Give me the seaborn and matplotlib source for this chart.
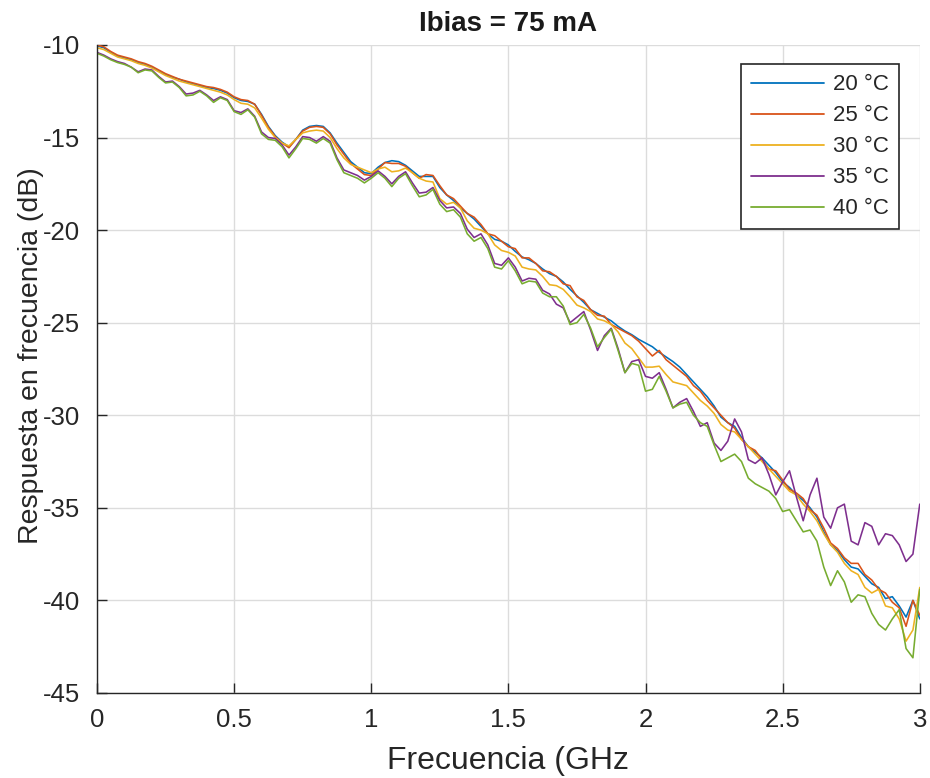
import numpy as np
import pandas as pd
import matplotlib
matplotlib.use("Agg")
import matplotlib.pyplot as plt
import seaborn as sns

# Frequency sample points (GHz), 0.025 GHz step
freq_ghz = np.round(np.arange(0, 121) * 0.025, 3)

resp_20c = [
    -10.05, -10.15, -10.4, -10.6, -10.7, -10.8, -10.95, -11.05, -11.2, -11.4,
    -11.6, -11.75, -11.85, -12.0, -12.1, -12.2, -12.3, -12.35, -12.45, -12.6,
    -12.85, -13.0, -13.05, -13.2, -13.75, -14.4, -14.9, -15.25, -15.5, -15.1,
    -14.6, -14.4, -14.35, -14.4, -14.75, -15.3, -15.8, -16.3, -16.6, -16.9,
    -16.95, -16.6, -16.35, -16.25, -16.3, -16.5, -16.8, -17.1, -17.1, -17.1,
    -17.7, -18.1, -18.4, -18.8, -19.1, -19.4, -19.8, -20.2, -20.5, -20.6,
    -20.8, -21.15, -21.45, -21.6, -21.8, -22.1, -22.35, -22.5, -22.8, -23.2,
    -23.55, -23.9, -24.3, -24.5, -24.7, -24.9, -25.2, -25.45, -25.65, -25.9,
    -26.1, -26.3, -26.6, -26.85, -27.1, -27.4, -27.8, -28.2, -28.6, -29.0,
    -29.5, -30.1, -30.4, -30.6, -31.2, -31.7, -32.0, -32.3, -32.7, -33.1,
    -33.6, -33.9, -34.3, -34.6, -35.0, -35.5, -36.3, -37.0, -37.3, -37.8,
    -38.2, -38.3, -38.7, -39.1, -39.3, -39.9, -39.8, -40.3, -40.9, -40.0,
    -41.0,
]

resp_25c = [
    -10.0, -10.1, -10.35, -10.55, -10.65, -10.75, -10.9, -11.0, -11.15, -11.35,
    -11.55, -11.7, -11.85, -11.95, -12.05, -12.15, -12.25, -12.3, -12.4, -12.55,
    -12.8, -12.95, -13.0, -13.2, -13.8, -14.45, -14.95, -15.3, -15.55, -15.1,
    -14.65, -14.45, -14.4, -14.45, -14.8, -15.4, -15.9, -16.4, -16.7, -17.0,
    -17.05, -16.7, -16.35, -16.4, -16.4, -16.55, -16.9, -17.2, -17.0, -17.05,
    -17.6, -18.1, -18.3, -18.7, -19.1, -19.3, -19.7, -20.2, -20.3, -20.6,
    -20.9, -21.0, -21.5, -21.5, -21.8, -22.2, -22.25, -22.5, -22.9, -23.0,
    -23.6, -23.8, -24.3, -24.6, -24.65, -25.1, -25.3, -25.5, -25.7, -26.0,
    -26.4, -26.8, -26.5, -27.0, -27.3, -27.6, -27.9, -28.4, -28.7, -29.2,
    -29.6, -30.0, -30.4, -30.7, -31.3, -31.7, -31.9, -32.4, -32.9, -33.0,
    -33.5, -34.0, -34.2, -34.5, -35.1, -35.4, -36.1, -36.9, -37.2, -37.7,
    -38.0, -38.0, -38.6, -38.9, -39.4, -39.6, -40.1, -40.4, -41.4, -40.0,
    -40.8,
]

resp_30c = [
    -10.15, -10.25, -10.45, -10.65, -10.75, -10.85, -11.0, -11.1, -11.25, -11.45,
    -11.65, -11.8, -11.95, -12.05, -12.15, -12.25, -12.35, -12.45, -12.55, -12.7,
    -12.95, -13.15, -13.2, -13.4, -13.95, -14.55, -15.0, -15.3, -15.45, -15.1,
    -14.75, -14.65, -14.6, -14.65, -15.0, -15.6, -16.1, -16.45, -16.6, -16.75,
    -16.9, -16.7, -16.6, -16.85, -16.8, -16.65, -16.9, -17.2, -17.35, -17.4,
    -18.3, -18.6, -18.5, -18.8, -19.5, -19.9, -20.0, -20.2, -20.8, -21.1,
    -21.2, -21.4, -22.0, -22.1, -22.15, -22.5, -22.95, -23.0, -23.2, -23.6,
    -24.05, -24.2, -24.4, -24.8, -24.9, -25.1, -25.5, -26.1, -26.4, -26.9,
    -27.4, -27.4, -27.35, -27.8, -28.2, -28.3, -28.4, -28.8, -29.2, -29.5,
    -29.9, -30.5, -30.8, -30.9, -31.3, -31.7, -32.1, -32.5, -32.9, -33.3,
    -33.7, -34.1, -34.3, -34.8, -35.2, -35.7, -36.4, -37.0, -37.4, -38.0,
    -38.4, -38.6, -39.3, -39.6, -39.4, -40.3, -40.4, -41.0, -42.2, -41.6,
    -39.3,
]

resp_35c = [
    -10.4, -10.55, -10.75, -10.9, -11.0, -11.2, -11.45, -11.3, -11.35, -11.7,
    -12.0, -11.95, -12.25, -12.65, -12.6, -12.45, -12.7, -13.0, -12.8, -12.95,
    -13.55, -13.65, -13.45, -13.85, -14.7, -15.0, -15.05, -15.4, -15.95, -15.5,
    -14.95, -15.0, -15.2, -14.95, -15.2, -16.1, -16.75, -16.9, -17.05, -17.3,
    -17.1, -16.8, -17.1, -17.5, -17.1, -16.85, -17.45, -18.0, -17.95, -17.7,
    -18.4, -18.8, -18.75, -19.1, -19.95, -20.4, -20.2, -20.8, -21.8, -21.9,
    -21.5, -22.0, -22.75, -22.6, -22.65, -23.25, -23.45, -24.0, -24.2, -25.0,
    -24.7, -24.4, -25.4, -26.5, -25.7, -25.3, -26.4, -27.7, -27.1, -27.0,
    -27.9, -28.0, -27.7, -28.6, -29.6, -29.3, -29.1, -29.8, -30.6, -30.4,
    -31.5, -31.9, -31.4, -30.2, -30.9, -32.4, -32.6, -32.3, -33.2, -34.3,
    -33.6, -33.0, -34.4, -35.7, -34.3, -33.4, -35.5, -36.1, -35.0, -34.8,
    -36.8, -37.0, -35.8, -36.0, -37.0, -36.4, -36.5, -37.0, -37.9, -37.5,
    -34.8,
]

resp_40c = [
    -10.45, -10.6, -10.8, -10.95, -11.05, -11.2, -11.5, -11.35, -11.4, -11.75,
    -12.05, -12.0, -12.3, -12.75, -12.7, -12.5, -12.75, -13.1, -12.85, -13.0,
    -13.6, -13.75, -13.5, -13.9, -14.8, -15.1, -15.15, -15.5, -16.1, -15.6,
    -15.05, -15.1, -15.3, -15.05, -15.3, -16.2, -16.9, -17.05, -17.2, -17.45,
    -17.2, -16.9, -17.2, -17.65, -17.2, -16.95, -17.6, -18.2, -18.1, -17.8,
    -18.6, -19.0, -18.9, -19.3, -20.2, -20.6, -20.4, -21.0, -22.0, -22.1,
    -21.65, -22.2, -22.9, -22.75, -22.8, -23.4, -23.6, -23.6, -24.1, -25.1,
    -25.0, -24.55, -25.3, -26.3, -25.8, -25.35, -26.5, -27.7, -27.2, -27.3,
    -28.7, -28.6, -27.9, -28.7, -29.6, -29.4, -29.3, -30.0, -30.4, -30.6,
    -31.6, -32.5, -32.3, -32.1, -32.5, -33.4, -33.7, -33.9, -34.1, -34.5,
    -35.2, -35.1, -35.7, -36.3, -36.2, -36.8, -38.2, -39.2, -38.4, -39.0,
    -40.1, -39.7, -39.8, -40.7, -41.3, -41.6, -41.0, -40.5, -42.6, -43.1,
    -39.4,
]

series_labels = ["20 °C", "25 °C", "30 °C", "35 °C", "40 °C"]
series_colors = ["#0072BD", "#D95319", "#EDB120", "#7E2F8E", "#77AC30"]

x_ticks = [0, 0.5, 1, 1.5, 2, 2.5, 3]
x_tick_labels = ["0", "0.5", "1", "1.5", "2", "2.5", "3"]
y_ticks = [-45, -40, -35, -30, -25, -20, -15, -10]
y_tick_labels = ["-45", "-40", "-35", "-30", "-25", "-20", "-15", "-10"]

title_text = "Ibias = 75 mA"
x_label = "Frecuencia (GHz"
y_label = "Respuesta en frecuencia (dB)"

# Long-form table for seaborn
all_series = [resp_20c, resp_25c, resp_30c, resp_35c, resp_40c]
frames = []
for label, values in zip(series_labels, all_series):
    frames.append(pd.DataFrame({"freq": freq_ghz, "resp": values, "temp": label}))
df = pd.concat(frames, ignore_index=True)

sns.set_theme(style="white")
plt.rcParams["font.family"] = ["Liberation Sans", "DejaVu Sans"]
plt.rcParams["axes.unicode_minus"] = False

fig = plt.figure(figsize=(9.3, 7.78), dpi=100)
ax = fig.add_axes([0.1043, 0.1093, 0.989 - 0.1043, 0.9422 - 0.1093])

sns.lineplot(
    data=df, x="freq", y="resp", hue="temp",
    hue_order=series_labels, palette=series_colors,
    linewidth=1.15, ax=ax, legend=True, sort=True,
)

ax.set_xlim(0, 3)
ax.set_ylim(-45, -10)
ax.set_xticks(x_ticks)
ax.set_xticklabels(x_tick_labels)
ax.set_yticks(y_ticks)
ax.set_yticklabels(y_tick_labels)

ax.grid(True, color="#dcdcdc", linewidth=1.0)
ax.set_axisbelow(True)
for side in ["top", "right"]:
    ax.spines[side].set_visible(False)
for side in ["left", "bottom"]:
    ax.spines[side].set_color("#262626")
    ax.spines[side].set_linewidth(1.0)

ax.tick_params(axis="both", direction="in", length=7, width=1.0,
               colors="#262626", labelsize=18.5, left=True, bottom=True)
ax.tick_params(axis="y", pad=12)
ax.tick_params(axis="x", pad=11)

ax.set_title(title_text, fontsize=20, fontweight="bold", color="#1a1a1a", pad=10)
ax.set_xlabel(x_label, fontsize=23, color="#262626")
ax.set_ylabel(y_label, fontsize=20.5, color="#262626")
ax.xaxis.set_label_coords(0.5, -0.082)
ax.yaxis.set_label_coords(-0.064, 0.52)

leg = ax.legend(
    loc="upper right", bbox_to_anchor=(0.975, 0.97),
    fontsize=16, frameon=True, fancybox=False, framealpha=1,
    edgecolor="#262626", handlelength=3.3, handletextpad=0.4,
    borderpad=0.45, labelspacing=0.45, borderaxespad=0.0,
)
leg.get_frame().set_linewidth(1.2)
for line in leg.get_lines():
    line.set_linewidth(1.3)

fig.savefig("out.png", dpi=100)
